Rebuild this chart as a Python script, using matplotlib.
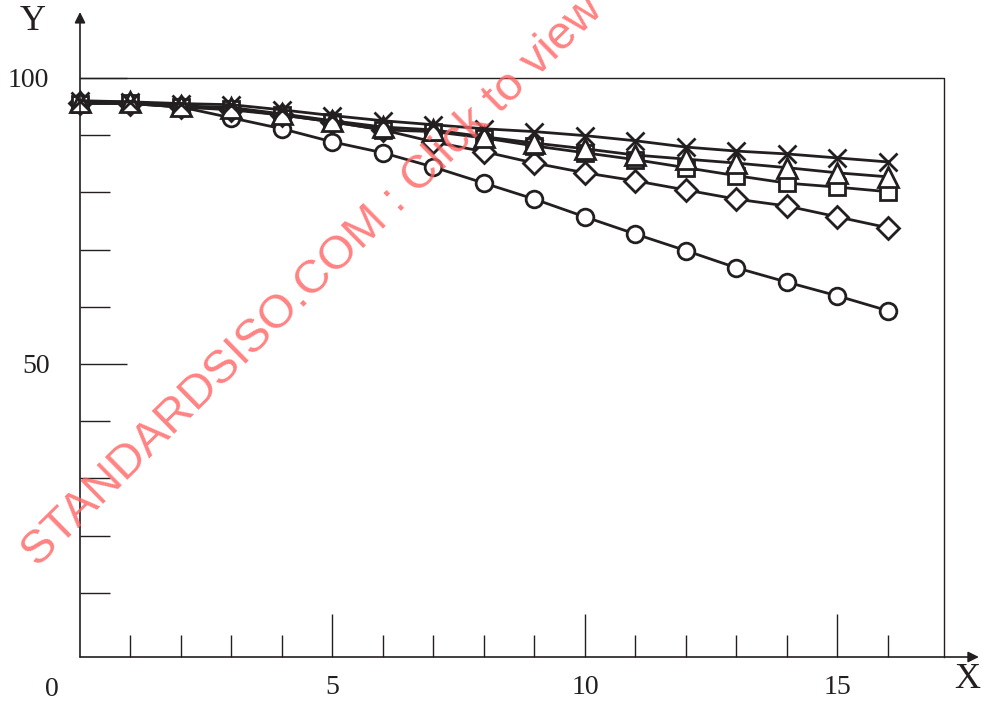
import numpy as np
import matplotlib.pyplot as plt

# ---- data ----
x = np.arange(0, 17)
y_circle = [95.6, 95.5, 94.9, 93.0, 91.1, 88.8, 86.9, 84.4, 81.6, 78.8, 75.7,
            72.7, 69.8, 66.8, 64.3, 61.9, 59.3]
y_diamond = [95.6, 95.5, 94.9, 94.4, 93.5, 92.3, 90.9, 88.8, 87.1, 85.1, 83.4,
             82.0, 80.4, 78.8, 77.6, 75.7, 73.8]
y_square = [95.5, 95.6, 94.9, 94.6, 93.5, 92.3, 90.9, 90.6, 89.5, 88.1, 86.9,
            85.7, 84.3, 82.9, 81.6, 80.9, 80.1]
y_triangle = [95.8, 95.8, 95.1, 94.8, 93.7, 92.5, 91.4, 90.9, 89.7, 88.6, 87.6,
              86.5, 85.8, 85.1, 84.3, 83.4, 82.7]
y_cross = [96.0, 95.8, 95.5, 95.3, 94.4, 93.4, 92.5, 91.8, 91.1, 90.6, 89.9,
           89.0, 87.9, 87.2, 86.7, 86.0, 85.3]

x_major = [5, 10, 15]
x_minor = [1, 2, 3, 4, 6, 7, 8, 9, 11, 12, 13, 14, 16]
y_major = [50, 100]
y_minor = [10, 20, 30, 40, 60, 70, 80, 90]

ink = "#231f20"

fig = plt.figure(figsize=(9.84, 7.02), dpi=100)
ax = fig.add_axes([0.0813, 0.0641, 0.9135, 0.9188])
ax.set_xlim(0, 17.8)
ax.set_ylim(-1.2, 111.5)

for s in ax.spines.values():
    s.set_visible(False)

# axes with arrows
ax.annotate("", xy=(0, 1), xytext=(0, 0), xycoords="axes fraction",
            arrowprops=dict(arrowstyle="-|>", color=ink, lw=1.2,
                            mutation_scale=16, shrinkA=0, shrinkB=0))
ax.annotate("", xy=(1, 0), xytext=(0, 0), xycoords="axes fraction",
            arrowprops=dict(arrowstyle="-|>", color=ink, lw=1.2,
                            mutation_scale=16, shrinkA=0, shrinkB=0))
# frame (top + right)
ax.plot([0, 17.1, 17.1], [100, 100, -1.2], color=ink, lw=1.0, clip_on=False)

# series
style = dict(color=ink, lw=2.0, mfc="white", mec=ink, mew=2.0, clip_on=False)
ax.plot(x, y_circle, marker="o", ms=12, **style)
ax.plot(x, y_diamond, marker="D", ms=11, **style)
ax.plot(x, y_square, marker="s", ms=12, **style)
ax.plot(x, y_triangle, marker="^", ms=14, **style)
ax.plot(x, y_cross, marker="x", ms=13, **style)

# ticks
ax.set_xticks(x_major)
ax.set_xticks(x_minor, minor=True)
ax.set_yticks(y_major)
ax.set_yticks(y_minor, minor=True)
ax.set_xticklabels([str(v) for v in x_major])
ax.set_yticklabels([str(v) for v in y_major])
ax.tick_params(axis="x", which="major", direction="in", length=31, width=1.0,
               color=ink, pad=13, labelsize=20)
ax.tick_params(axis="x", which="minor", direction="in", length=16, width=1.0,
               color=ink)
ax.tick_params(axis="y", which="major", direction="in", length=34, width=1.0,
               color=ink, pad=22, labelsize=20)
ax.tick_params(axis="y", which="minor", direction="in", length=21.5, width=1.0,
               color=ink)
for lab in ax.get_xticklabels() + ax.get_yticklabels():
    lab.set_fontfamily("Liberation Serif")
    lab.set_color(ink)

fig.text(52 / 984, 1 - 690 / 702, "0", fontsize=20, family="Liberation Serif",
         ha="center", va="center", color=ink)
fig.text(33 / 984, 1 - 22 / 702, "Y", fontsize=26, family="Liberation Serif",
         ha="center", va="center", color=ink)
fig.text(967 / 984, 1 - 680 / 702, "X", fontsize=26, family="Liberation Serif",
         ha="center", va="center", color=ink)

# watermark
fig.text(38 / 984, 1 - 568 / 702, "STANDARDSISO.COM : Click to view",
         fontsize=34, family="Liberation Sans", color="#ff6464", alpha=0.8,
         rotation=44.5, rotation_mode="anchor", ha="left", va="baseline")

fig.savefig("out.png", dpi=100)
